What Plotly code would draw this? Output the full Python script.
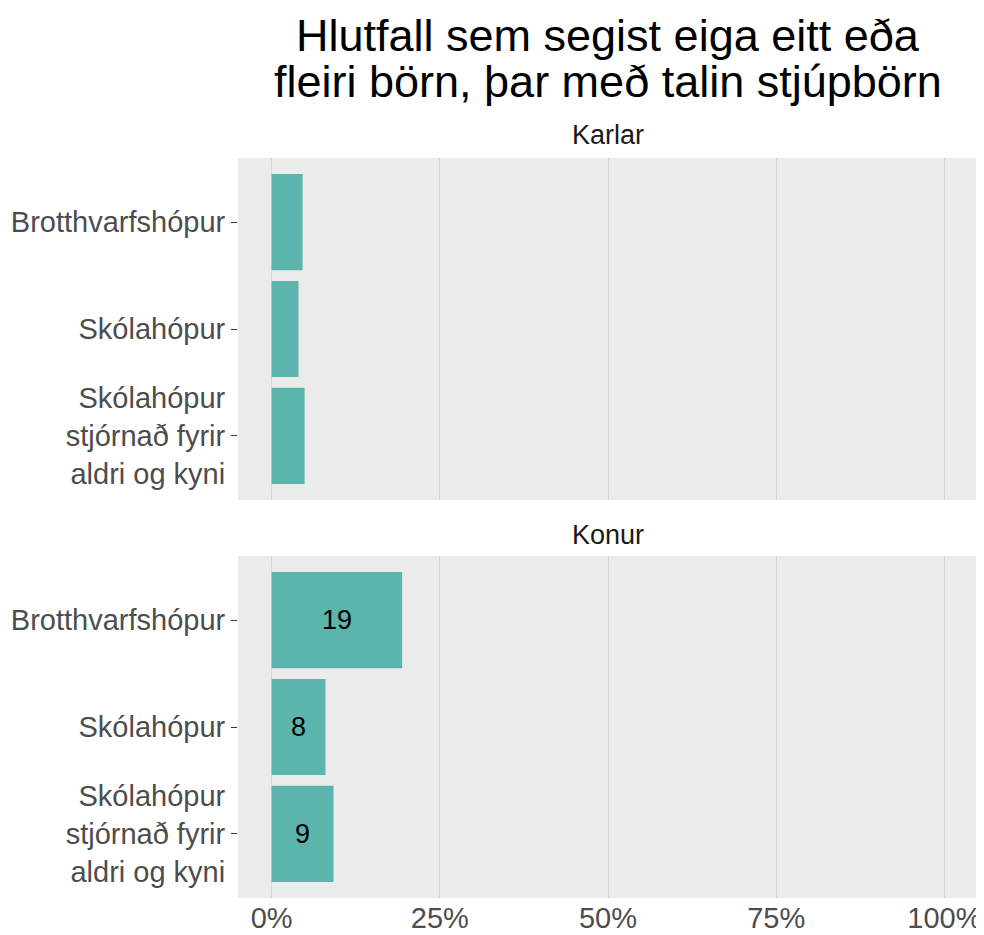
import plotly.graph_objects as go
from plotly.subplots import make_subplots

categories = ["Brotthvarfshópur", "Skólahópur", "Skólahópur<br>stjórnað fyrir<br>aldri og kyni"]
karlar_values = [4.6, 4.0, 4.9]
konur_values = [19.4, 8.0, 9.2]
konur_labels = ["19", "8", "9"]
karlar_labels = ["", "", ""]
x_ticks = [0, 25, 50, 75, 100]
x_ticklabels = ["0%", "25%", "50%", "75%", "100%"]
panel_titles = ["Karlar", "Konur"]
title_lines = ["Hlutfall sem segist eiga eitt eða", "fleiri börn, þar með talin stjúpbörn"]

bar_color = "#5BB5AC"
font_family = "Liberation Sans, Arial, sans-serif"

# page body has an 8px margin, so the figure is drawn 8px smaller and offset
W, H = 976, 927
L, R, T, B = 230, 6, 150, 37
plot_h = H - T - B  # 740

fig = make_subplots(rows=2, cols=1, shared_xaxes=True)

for row, vals, labs in [(1, karlar_values, karlar_labels), (2, konur_values, konur_labels)]:
    fig.add_trace(go.Bar(
        x=vals, y=categories, orientation="h", width=0.9,
        marker=dict(color=bar_color, line=dict(width=0)),
        text=labs, textposition="inside", insidetextanchor="middle",
        textfont=dict(size=27, color="#000000", family=font_family),
        hoverinfo="skip", showlegend=False,
    ), row=row, col=1)

top_lo = (890 - 492) / plot_h
bot_hi = (890 - 548) / plot_h

fig.update_layout(
    width=W, height=H,
    margin=dict(l=L, r=R, t=T, b=B),
    paper_bgcolor="white", plot_bgcolor="#EBEBEB",
    font=dict(family=font_family),
    bargap=0.1,
    uniformtext=dict(mode="show", minsize=10),
)

for i, ax in enumerate(["yaxis", "yaxis2"]):
    fig.layout[ax].update(
        domain=[top_lo, 1] if i == 0 else [0, bot_hi],
        type="category", categoryorder="array", categoryarray=categories,
        range=[2.6, -0.6], showgrid=False, zeroline=False,
        ticks="outside", ticklen=6, tickcolor="#333333", tickwidth=1.2,
        tickfont=dict(size=29, color="#4D4D4D", family=font_family),
        showline=False, automargin=False,
    )

for i, ax in enumerate(["xaxis", "xaxis2"]):
    fig.layout[ax].update(
        range=[-5, 105], tickvals=x_ticks, ticktext=x_ticklabels,
        showgrid=True, gridcolor="#D4D4D4", gridwidth=1.1,
        zeroline=False, showline=False, ticks="",
        showticklabels=(i == 1), automargin=False,
        tickfont=dict(size=29, color="#4D4D4D", family=font_family),
    )

# title (two lines, tight line spacing as in the reference)
for k, (line, ypx) in enumerate(zip(title_lines, [27, 73])):
    fig.add_annotation(text=line, x=0.5, xref="paper", xanchor="center",
                       y=1 + (T - ypx) / plot_h, yref="paper", yanchor="middle",
                       showarrow=False, borderpad=0,
                       font=dict(size=45, color="#000000", family=font_family))

fig.add_annotation(text=panel_titles[0], x=0.5, xref="paper", y=1, yref="paper",
                   yanchor="middle", yshift=23, showarrow=False,
                   font=dict(size=27, color="#1A1A1A", family=font_family))
fig.add_annotation(text=panel_titles[1], x=0.5, xref="paper", y=bot_hi, yref="paper",
                   yanchor="middle", yshift=21, showarrow=False,
                   font=dict(size=27, color="#1A1A1A", family=font_family))

fig.write_html("out.html")
